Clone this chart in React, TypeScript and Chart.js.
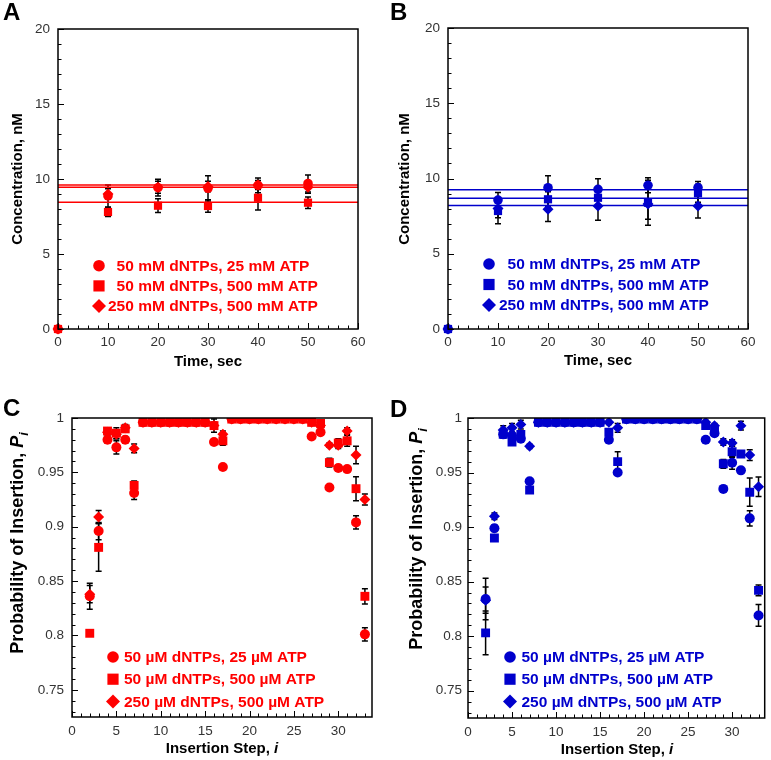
import React, { useEffect, useRef } from 'react';
import { Chart, registerables } from 'chart.js';

Chart.register(...registerables);

const FONT = 'Arial, "Liberation Sans", Helvetica, sans-serif';
const RED = '#ff0000';
const BLUE = '#0000cc';

// ---------- Panels A / B : time course ----------
const timeSec = [0, 10, 20, 30, 40, 50];
const timeTicks = [0, 10, 20, 30, 40, 50, 60];
const concTicks = [0, 5, 10, 15, 20];
const legendMM = ['50 mM dNTPs, 25 mM ATP', '50 mM dNTPs, 500 mM ATP', '250 mM dNTPs, 500 mM ATP'];

const aCircle = [0, 8.87, 9.42, 9.38, 9.58, 9.7];
const aCircleErr = [0, 0.73, 0.56, 0.84, 0.49, 0.57];
const aSquare = [0, 7.8, 8.22, 8.2, 8.75, 8.42];
const aSquareErr = [0, 0.3, 0.46, 0.42, 0.82, 0.38];
const aDiamond = [0, 9.0, 9.45, 9.5, 9.6, 9.45];
const aDiamondErr = [0, 0.35, 0.4, 0.35, 0.3, 0.4];
const aFits = [9.6, 9.45, 8.45];

const bCircle = [0, 8.57, 9.39, 9.28, 9.55, 9.4];
const bCircleErr = [0, 0.5, 0.8, 0.7, 0.5, 0.4];
const bSquare = [0, 7.84, 8.62, 8.72, 8.39, 9.02];
const bSquareErr = [0, 0.85, 0.5, 0.5, 1.5, 0.6];
const bDiamond = [0, 8.0, 7.95, 8.17, 8.3, 8.17];
const bDiamondErr = [0, 0.6, 0.8, 0.95, 1.0, 0.8];
const bFits = [9.26, 8.68, 8.2];

// ---------- Panels C / D : probability of insertion ----------
const steps = [2, 3, 4, 5, 6, 7, 8, 9, 10, 11, 12, 13, 14, 15, 16, 17, 18, 19, 20, 21, 22, 23, 24, 25, 26, 27, 28, 29, 30, 31, 32, 33];
const stepTicks = [0, 5, 10, 15, 20, 25, 30];
const probTicks = [0.75, 0.8, 0.85, 0.9, 0.95, 1];
const probTickLabels = ['0.75', '0.8', '0.85', '0.9', '0.95', '1'];
const legendUM = ['50 µM dNTPs, 25 µM ATP', '50 µM dNTPs, 500 µM ATP', '250 µM dNTPs, 500 µM ATP'];

const cCircle = [0.836, 0.896, 0.980, 0.973, 0.980, 0.931, 0.996, 0.996, 0.996, 0.996, 0.996, 0.996, 0.996, 0.996, 0.978, 0.955, 0.999, 0.999, 0.999, 0.999, 0.999, 0.999, 0.999, 0.999, 0.999, 0.983, 0.987, 0.936, 0.954, 0.953, 0.904, 0.801];
const cCircleErr = [0.012, 0.008, 0.003, 0.006, 0.003, 0.006, 0.001, 0.001, 0.001, 0.001, 0.001, 0.001, 0.001, 0.001, 0.002, 0.002, 0, 0, 0, 0, 0, 0, 0, 0, 0, 0.002, 0.002, 0.002, 0.003, 0.002, 0.006, 0.006];
const cSquare = [0.802, 0.881, 0.988, 0.986, 0.990, 0.938, 0.996, 0.996, 0.996, 0.996, 0.996, 0.996, 0.996, 0.996, 0.993, 0.979, 0.999, 0.999, 0.999, 0.999, 0.999, 0.999, 0.999, 0.999, 0.999, 0.996, 0.995, 0.959, 0.977, 0.979, 0.935, 0.836];
const cSquareErr = [0.002, 0.022, 0.003, 0.005, 0.003, 0.004, 0.001, 0.001, 0.001, 0.001, 0.001, 0.001, 0.001, 0.001, 0.006, 0.004, 0, 0, 0, 0, 0, 0, 0, 0, 0, 0.003, 0.003, 0.004, 0.004, 0.005, 0.011, 0.007];
const cDiamond = [0.838, 0.909, 0.987, 0.985, 0.991, 0.972, 0.996, 0.996, 0.996, 0.996, 0.996, 0.996, 0.996, 0.996, 0.993, 0.985, 0.999, 0.999, 0.999, 0.999, 0.999, 0.999, 0.999, 0.999, 0.999, 0.996, 0.993, 0.975, 0.975, 0.988, 0.966, 0.925];
const cDiamondErr = [0.008, 0.006, 0.003, 0.004, 0.003, 0.004, 0.001, 0.001, 0.001, 0.001, 0.001, 0.001, 0.001, 0.001, 0.003, 0.003, 0, 0, 0, 0, 0, 0, 0, 0, 0, 0.002, 0.002, 0.002, 0.003, 0.003, 0.008, 0.005];

const dCircle = [0.834, 0.899, 0.985, 0.984, 0.981, 0.942, 0.996, 0.996, 0.996, 0.996, 0.996, 0.996, 0.996, 0.996, 0.980, 0.950, 0.999, 0.999, 0.999, 0.999, 0.999, 0.999, 0.999, 0.999, 0.999, 0.980, 0.986, 0.935, 0.959, 0.952, 0.908, 0.819];
const dCircleErr = [0.019, 0.003, 0.003, 0.003, 0.003, 0.002, 0.001, 0.001, 0.001, 0.001, 0.001, 0.001, 0.001, 0.001, 0.002, 0.002, 0, 0, 0, 0, 0, 0, 0, 0, 0, 0.002, 0.002, 0.002, 0.006, 0.002, 0.007, 0.010];
const dSquare = [0.803, 0.890, 0.985, 0.978, 0.985, 0.934, 0.996, 0.996, 0.996, 0.996, 0.996, 0.996, 0.996, 0.996, 0.987, 0.960, 0.999, 0.999, 0.999, 0.999, 0.999, 0.999, 0.999, 0.999, 0.999, 0.993, 0.988, 0.958, 0.969, 0.967, 0.932, 0.842];
const dSquareErr = [0.020, 0.003, 0.003, 0.003, 0.003, 0.002, 0.001, 0.001, 0.001, 0.001, 0.001, 0.001, 0.001, 0.001, 0.003, 0.009, 0, 0, 0, 0, 0, 0, 0, 0, 0, 0.003, 0.003, 0.004, 0.005, 0.003, 0.013, 0.005];
const dDiamond = [0.833, 0.910, 0.989, 0.991, 0.994, 0.974, 0.996, 0.996, 0.996, 0.996, 0.996, 0.996, 0.996, 0.996, 0.996, 0.991, 0.999, 0.999, 0.999, 0.999, 0.999, 0.999, 0.999, 0.999, 0.999, 0.996, 0.993, 0.978, 0.977, 0.993, 0.966, 0.937];
const dDiamondErr = [0.012, 0.003, 0.004, 0.004, 0.004, 0.002, 0.001, 0.001, 0.001, 0.001, 0.001, 0.001, 0.001, 0.001, 0.002, 0.004, 0, 0, 0, 0, 0, 0, 0, 0, 0, 0.002, 0.002, 0.003, 0.003, 0.004, 0.005, 0.009];

type Seg = { t: string; it?: boolean; sub?: boolean };
type Series = { y: number[]; err: number[]; style: string; r: number };

interface PanelCfg {
  left: number; top: number; w: number; h: number;
  area: { l: number; t: number; r: number; b: number };
  color: string;
  xs: number[];
  xMin: number; xMax: number; yMin: number; yMax: number;
  xTicks: number[]; yTicks: number[]; yTickLabels?: string[];
  xMinor: number; yMinor: number; yMinorStart: number;
  xPad: number; yPad: number;
  series: Series[];
  fits: number[];
  clip: boolean;
  letter: string; letterPos: [number, number];
  xTitle: Seg[]; xTitlePos: [number, number];
  yTitle: Seg[]; yTitlePos: [number, number]; yTitleSize: number;
  legend: { labels: string[]; mx: number; y0: number; dy: number; tx: number; align: boolean };
}

function fontStr(size: number, bold: boolean, italic?: boolean) {
  return `${italic ? 'italic ' : ''}${bold ? 'bold ' : ''}${size}px ${FONT}`;
}

function drawRich(ctx: CanvasRenderingContext2D, segs: Seg[], x: number, y: number, size: number, rotate: boolean) {
  ctx.save();
  ctx.translate(x, y);
  if (rotate) ctx.rotate(-Math.PI / 2);
  ctx.textBaseline = 'middle';
  ctx.textAlign = 'left';
  ctx.fillStyle = '#000';
  const widths = segs.map((s) => {
    ctx.font = fontStr(s.sub ? size * 0.7 : size, true, s.it);
    return ctx.measureText(s.t).width;
  });
  const total = widths.reduce((a, b) => a + b, 0);
  let cx = -total / 2;
  segs.forEach((s, i) => {
    ctx.font = fontStr(s.sub ? size * 0.7 : size, true, s.it);
    ctx.fillText(s.t, cx, s.sub ? size * 0.35 : 0);
    cx += widths[i];
  });
  ctx.restore();
}

function drawMarker(ctx: CanvasRenderingContext2D, style: string, x: number, y: number, r: number) {
  ctx.beginPath();
  if (style === 'circle') {
    ctx.arc(x, y, r, 0, Math.PI * 2);
  } else if (style === 'rect') {
    ctx.rect(x - r, y - r, 2 * r, 2 * r);
  } else {
    const d = r * 1.3;
    ctx.moveTo(x, y - d);
    ctx.lineTo(x + d, y);
    ctx.lineTo(x, y + d);
    ctx.lineTo(x - d, y);
    ctx.closePath();
  }
  ctx.fill();
}

function makePlugin(cfg: PanelCfg) {
  return {
    id: 'decor' + cfg.letter,
    beforeDatasetsDraw(chart: any) {
      const ctx: CanvasRenderingContext2D = chart.ctx;
      const ys = chart.scales.y;
      ctx.save();
      ctx.strokeStyle = '#000';
      ctx.lineWidth = 1.5;
      chart.data.datasets.forEach((ds: any, di: number) => {
        if (!ds.errors) return;
        const meta = chart.getDatasetMeta(di);
        ds.errors.forEach((e: number, i: number) => {
          if (!e) return;
          const pt = meta.data[i];
          const v = ds.data[i].y;
          const y1 = ys.getPixelForValue(v + e);
          const y2 = ys.getPixelForValue(v - e);
          if (Math.abs(y2 - y1) < 2) return;
          const x = pt.x;
          ctx.beginPath();
          ctx.moveTo(x, y1); ctx.lineTo(x, y2);
          ctx.moveTo(x - 3, y1); ctx.lineTo(x + 3, y1);
          ctx.moveTo(x - 3, y2); ctx.lineTo(x + 3, y2);
          ctx.stroke();
        });
      });
      ctx.restore();
    },
    afterDraw(chart: any) {
      const ctx: CanvasRenderingContext2D = chart.ctx;
      const ca = chart.chartArea;
      const xs = chart.scales.x;
      const ys = chart.scales.y;
      ctx.save();
      // frame
      ctx.strokeStyle = '#000';
      ctx.lineWidth = 1.5;
      ctx.strokeRect(ca.left, ca.top, ca.right - ca.left, ca.bottom - ca.top);
      // inward ticks
      ctx.lineWidth = 1;
      ctx.beginPath();
      const nx = Math.floor((cfg.xMax - cfg.xMin) / cfg.xMinor + 1e-6);
      for (let k = 0; k <= nx; k++) {
        const v = cfg.xMin + k * cfg.xMinor;
        const major = cfg.xTicks.some((t) => Math.abs(t - v) < 1e-6);
        const px = Math.round(xs.getPixelForValue(v)) + 0.5;
        ctx.moveTo(px, ca.bottom);
        ctx.lineTo(px, ca.bottom - (major ? 6 : 3.5));
      }
      const ny = Math.floor((cfg.yMax - cfg.yMinorStart) / cfg.yMinor + 1e-6);
      for (let k = 0; k <= ny; k++) {
        const v = cfg.yMinorStart + k * cfg.yMinor;
        const major = cfg.yTicks.some((t) => Math.abs(t - v) < 1e-6);
        const py = Math.round(ys.getPixelForValue(v)) + 0.5;
        ctx.moveTo(ca.left, py);
        ctx.lineTo(ca.left + (major ? 6 : 3.5), py);
      }
      ctx.stroke();
      // legend
      const lg = cfg.legend;
      ctx.fillStyle = cfg.color;
      ctx.font = fontStr(15.5, true);
      ctx.textBaseline = 'middle';
      ctx.textAlign = 'left';
      const refW = ctx.measureText('250').width;
      lg.labels.forEach((lab, k) => {
        const y = lg.y0 + k * lg.dy;
        const st = cfg.series[k].style;
        drawMarker(ctx, st, lg.mx, y, st === 'circle' ? 5.8 : st === 'rect' ? 5.6 : 5.4);
        let tx = lg.tx;
        if (lg.align) {
          const first = lab.split(' ')[0];
          tx += refW - ctx.measureText(first).width;
        }
        ctx.font = fontStr(15.5, true);
        ctx.fillText(lab, tx, y + 1);
      });
      // titles
      drawRich(ctx, cfg.xTitle, cfg.xTitlePos[0], cfg.xTitlePos[1], 15, false);
      drawRich(ctx, cfg.yTitle, cfg.yTitlePos[0], cfg.yTitlePos[1], cfg.yTitleSize, true);
      // panel letter
      ctx.fillStyle = '#000';
      ctx.font = fontStr(24, true);
      ctx.textBaseline = 'middle';
      ctx.fillText(cfg.letter, cfg.letterPos[0], cfg.letterPos[1]);
      ctx.restore();
    },
  };
}

function buildConfig(cfg: PanelCfg): any {
  const orders = [2, 1, 3];
  const datasets: any[] = cfg.series.map((s, k) => ({
    type: 'scatter',
    label: cfg.legend.labels[k],
    data: cfg.xs.map((x, i) => ({ x, y: s.y[i] })),
    errors: s.err,
    pointStyle: s.style,
    pointRadius: s.r,
    pointHoverRadius: s.r,
    backgroundColor: cfg.color,
    borderColor: cfg.color,
    borderWidth: 0,
    pointBorderWidth: 0,
    clip: cfg.clip ? undefined : false,
    order: orders[k],
  }));
  cfg.fits.forEach((v) => {
    datasets.push({
      type: 'line',
      data: [{ x: cfg.xMin, y: v }, { x: cfg.xMax, y: v }],
      borderColor: cfg.color,
      borderWidth: 1.5,
      pointRadius: 0,
      order: 10,
    });
  });
  const tickFont = { family: FONT, size: 13.5 };
  return {
    type: 'scatter',
    data: { datasets },
    plugins: [makePlugin(cfg)],
    options: {
      animation: false,
      responsive: false,
      events: [],
      layout: { padding: { left: 0, top: cfg.area.t, right: cfg.w - cfg.area.r, bottom: 0 } },
      plugins: { legend: { display: false }, tooltip: { enabled: false }, title: { display: false } },
      scales: {
        x: {
          type: 'linear',
          min: cfg.xMin,
          max: cfg.xMax,
          afterBuildTicks: (s: any) => { s.ticks = cfg.xTicks.map((value) => ({ value })); },
          afterFit: (s: any) => { s.height = cfg.h - cfg.area.b; },
          grid: { display: false, drawTicks: false },
          border: { display: false },
          ticks: { font: tickFont, color: '#333', padding: cfg.xPad, maxRotation: 0, autoSkip: false, callback: (v: number) => String(v) },
        },
        y: {
          type: 'linear',
          min: cfg.yMin,
          max: cfg.yMax,
          afterBuildTicks: (s: any) => { s.ticks = cfg.yTicks.map((value) => ({ value })); },
          afterFit: (s: any) => { s.width = cfg.area.l; },
          grid: { display: false, drawTicks: false },
          border: { display: false },
          ticks: {
            font: tickFont, color: '#333', padding: cfg.yPad, autoSkip: false,
            callback: (v: number, i: number) => (cfg.yTickLabels ? cfg.yTickLabels[i] : String(v)),
          },
        },
      },
    },
  };
}

const concTitle: Seg[] = [{ t: 'Concentration, nM' }];
const timeTitle: Seg[] = [{ t: 'Time, sec' }];
const probTitle: Seg[] = [{ t: 'Probability of Insertion, ' }, { t: 'P', it: true }, { t: 'i', it: true, sub: true }];
const stepTitle: Seg[] = [{ t: 'Insertion Step, ' }, { t: 'i', it: true }];

const panelA: PanelCfg = {
  left: 0, top: 0, w: 385, h: 375,
  area: { l: 58, t: 29, r: 358, b: 329 },
  color: RED, xs: timeSec,
  xMin: 0, xMax: 60, yMin: 0, yMax: 20,
  xTicks: timeTicks, yTicks: concTicks,
  xMinor: 2, yMinor: 1, yMinorStart: 0, xPad: 5, yPad: 8,
  series: [
    { y: aCircle, err: aCircleErr, style: 'circle', r: 4.8 },
    { y: aSquare, err: aSquareErr, style: 'rect', r: 5.8 },
    { y: aDiamond, err: aDiamondErr, style: 'rectRot', r: 5.5 },
  ],
  fits: aFits, clip: false,
  letter: 'A', letterPos: [3, 13],
  xTitle: timeTitle, xTitlePos: [208, 362],
  yTitle: concTitle, yTitlePos: [18, 179], yTitleSize: 15,
  legend: { labels: legendMM, mx: 99, y0: 265.7, dy: 20.2, tx: 108, align: true },
};

const panelB: PanelCfg = {
  left: 385, top: 0, w: 386, h: 375,
  area: { l: 63, t: 28, r: 363, b: 329 },
  color: BLUE, xs: timeSec,
  xMin: 0, xMax: 60, yMin: 0, yMax: 20,
  xTicks: timeTicks, yTicks: concTicks,
  xMinor: 2, yMinor: 1, yMinorStart: 0, xPad: 5, yPad: 8,
  series: [
    { y: bCircle, err: bCircleErr, style: 'circle', r: 4.8 },
    { y: bSquare, err: bSquareErr, style: 'rect', r: 5.8 },
    { y: bDiamond, err: bDiamondErr, style: 'rectRot', r: 5.5 },
  ],
  fits: bFits, clip: false,
  letter: 'B', letterPos: [5, 13],
  xTitle: timeTitle, xTitlePos: [213, 361],
  yTitle: concTitle, yTitlePos: [20, 179], yTitleSize: 15,
  legend: { labels: legendMM, mx: 104, y0: 264, dy: 20.5, tx: 114, align: true },
};

const panelC: PanelCfg = {
  left: 0, top: 375, w: 385, h: 385,
  area: { l: 72, t: 43, r: 372, b: 342 },
  color: RED, xs: steps,
  xMin: 0, xMax: 33.8, yMin: 0.725, yMax: 1,
  xTicks: stepTicks, yTicks: probTicks, yTickLabels: probTickLabels,
  xMinor: 1, yMinor: 0.01, yMinorStart: 0.73, xPad: 6, yPad: 8,
  series: [
    { y: cCircle, err: cCircleErr, style: 'circle', r: 5 },
    { y: cSquare, err: cSquareErr, style: 'rect', r: 6.3 },
    { y: cDiamond, err: cDiamondErr, style: 'rectRot', r: 5.5 },
  ],
  fits: [], clip: true,
  letter: 'C', letterPos: [3, 34],
  xTitle: stepTitle, xTitlePos: [222, 374],
  yTitle: probTitle, yTitlePos: [18, 168], yTitleSize: 18,
  legend: { labels: legendUM, mx: 113, y0: 282, dy: 22.2, tx: 124, align: false },
};

const panelD: PanelCfg = {
  left: 385, top: 375, w: 386, h: 385,
  area: { l: 83, t: 43, r: 382, b: 343 },
  color: BLUE, xs: steps,
  xMin: 0, xMax: 33.7, yMin: 0.725, yMax: 1,
  xTicks: stepTicks, yTicks: probTicks, yTickLabels: probTickLabels,
  xMinor: 1, yMinor: 0.01, yMinorStart: 0.73, xPad: 6, yPad: 6,
  series: [
    { y: dCircle, err: dCircleErr, style: 'circle', r: 5 },
    { y: dSquare, err: dSquareErr, style: 'rect', r: 6.3 },
    { y: dDiamond, err: dDiamondErr, style: 'rectRot', r: 5.5 },
  ],
  fits: [], clip: true,
  letter: 'D', letterPos: [5, 35],
  xTitle: stepTitle, xTitlePos: [232, 375],
  yTitle: probTitle, yTitlePos: [32, 164], yTitleSize: 18,
  legend: { labels: legendUM, mx: 125, y0: 282, dy: 22.2, tx: 136.5, align: false },
};

function Panel({ cfg }: { cfg: PanelCfg }) {
  const ref = useRef<HTMLCanvasElement>(null);
  useEffect(() => {
    const chart = new Chart(ref.current as HTMLCanvasElement, buildConfig(cfg));
    return () => chart.destroy();
  }, [cfg]);
  return (
    <canvas
      ref={ref}
      width={cfg.w}
      height={cfg.h}
      style={{ position: 'absolute', left: cfg.left, top: cfg.top, width: cfg.w, height: cfg.h, display: 'block' }}
    />
  );
}

export default function App() {
  return (
    <div style={{ position: 'absolute', left: 0, top: 0, width: 771, height: 760, background: '#fff' }}>
      <Panel cfg={panelA} />
      <Panel cfg={panelB} />
      <Panel cfg={panelC} />
      <Panel cfg={panelD} />
    </div>
  );
}
